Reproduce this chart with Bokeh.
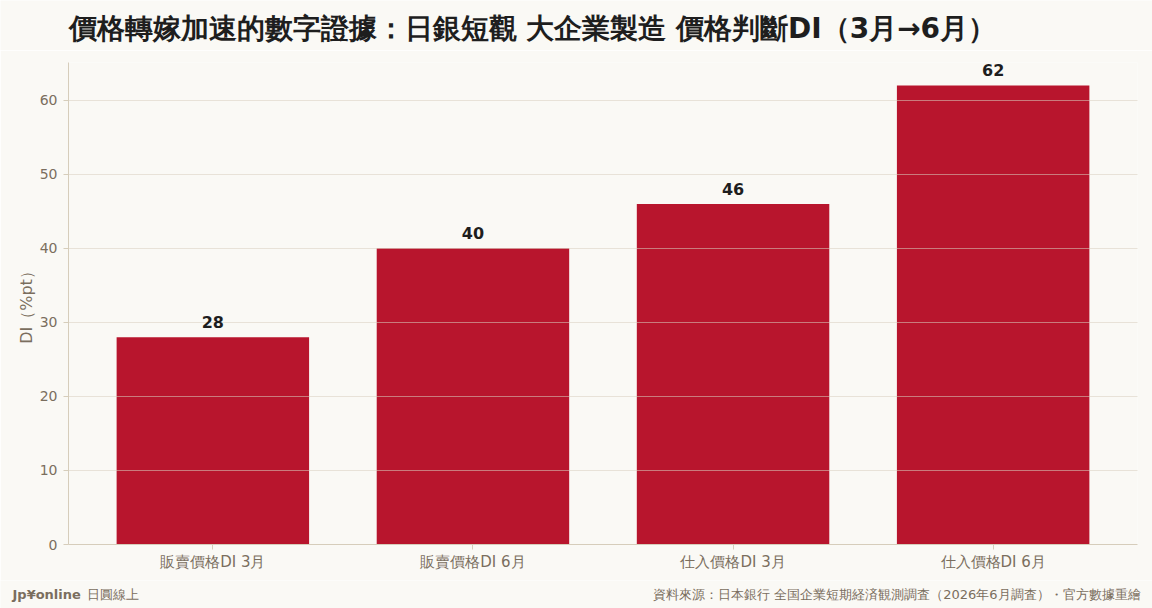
from bokeh.plotting import figure
from bokeh.layouts import column, row
from bokeh.models import ColumnDataSource, FactorRange, Range1d, LabelSet, FixedTicker
from bokeh.core.properties import value
from bokeh.embed import file_html
from bokeh.resources import INLINE

# Data
categories = ["販賣價格DI 3月", "販賣價格DI 6月", "仕入價格DI 3月", "仕入價格DI 6月"]
values = [28, 40, 46, 62]
y_ticks = [0, 10, 20, 30, 40, 50, 60]

BG = "#faf9f5"
BAR = "#b8152d"
MUTED = "#7a6e5e"
AXIS = "#d6cdbb"
FONT = "DejaVu Sans"


def strip(height):
    # plain text strip used for the header and the footer
    s = figure(
        width=1152, height=height, x_range=Range1d(0, 1152), y_range=Range1d(0, height),
        output_backend="svg", toolbar_location=None, tools="",
        x_axis_type=None, y_axis_type=None,
        min_border_left=0, min_border_right=0, min_border_top=0, min_border_bottom=0,
        background_fill_color=BG, border_fill_color=BG,
    )
    s.outline_line_color = None
    s.grid.visible = False
    return s


head = strip(50)
head.text(x=[68], y=[22], text=["價格轉嫁加速的數字證據：日銀短觀 大企業製造 價格判斷DI（3月→6月）"],
          text_font=value(FONT), text_font_size="28px", text_font_style="bold",
          text_color="#1e1e1e", text_baseline="middle")

source = ColumnDataSource(data=dict(
    cat=categories,
    val=values,
    lbl=[str(v) for v in values],
))

p = figure(
    x_range=FactorRange(factors=categories, range_padding=0.055, range_padding_units="absolute"),
    y_range=Range1d(0, max(values) * 1.05),
    width=1152, height=530,
    output_backend="svg", toolbar_location=None, tools="",
    min_border_left=68, min_border_right=15, min_border_top=12, min_border_bottom=36,
    background_fill_color=BG, border_fill_color=BG,
)

p.vbar(x="cat", top="val", width=0.74, source=source, color=BAR, line_color=None)

labels = LabelSet(x="cat", y="val", text="lbl", source=source, text_align="center",
                  text_baseline="bottom", y_offset=9, text_font=value(FONT),
                  text_font_size="16px", text_font_style="bold", text_color="#1e1e1e")
p.add_layout(labels)

p.outline_line_color = None
p.xgrid.grid_line_color = None
p.ygrid.grid_line_color = "#d8cfbf"
p.ygrid.grid_line_alpha = 0.55
p.ygrid.level = "annotation"
p.yaxis.ticker = FixedTicker(ticks=y_ticks)

for ax in (p.xaxis, p.yaxis):
    ax.axis_line_color = AXIS
    ax.major_tick_line_color = AXIS
    ax.minor_tick_line_color = None
    ax.major_tick_in = 0
    ax.major_tick_out = 5
    ax.major_label_text_font = FONT
    ax.major_label_text_color = MUTED
    ax.major_label_standoff = 6

p.xaxis.major_label_standoff = 3
p.xaxis.major_label_text_font_size = "15px"
p.yaxis.major_label_text_font_size = "14px"
p.yaxis.axis_label = "DI（%pt）"
p.yaxis.axis_label_text_font = FONT
p.yaxis.axis_label_text_font_size = "16px"
p.yaxis.axis_label_text_font_style = "normal"
p.yaxis.axis_label_text_color = MUTED
p.yaxis.axis_label_standoff = 1

foot = strip(28)
foot.text(x=[12], y=[14], text=["Jp¥online"], text_font=value(FONT), text_font_size="13px",
          text_font_style="bold", text_color=MUTED, text_baseline="middle")
foot.text(x=[86], y=[14], text=["日圓線上"], text_font=value(FONT), text_font_size="13px",
          text_color=MUTED, text_baseline="middle")
foot.text(x=[1140], y=[14],
          text=["資料來源：日本銀行 全国企業短期経済観測調査（2026年6月調査）・官方數據重繪"],
          text_font=value(FONT), text_font_size="13px", text_align="right",
          text_color=MUTED, text_baseline="middle")

layout = column(row(head), p, row(foot), spacing=0)
open("out.html", "w").write(file_html(layout, INLINE))
